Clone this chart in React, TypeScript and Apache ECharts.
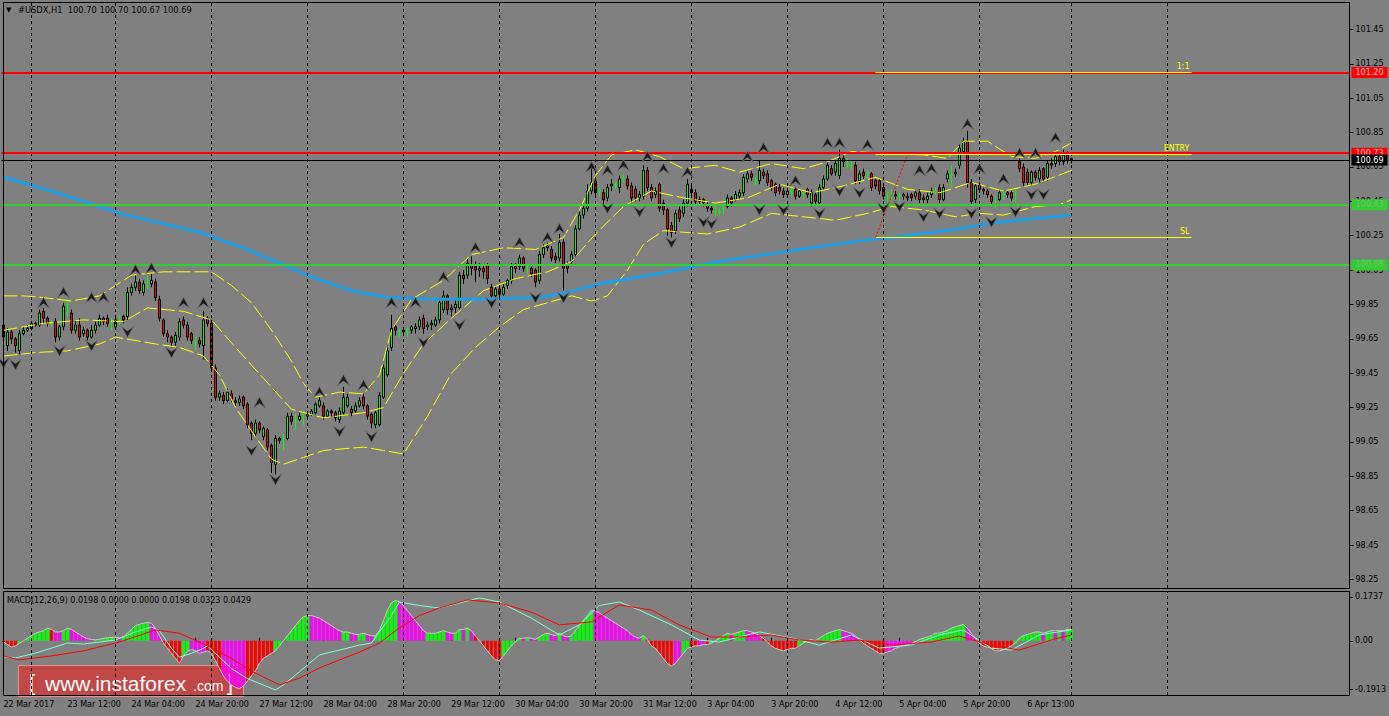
import React, { useEffect, useRef } from "react";
import * as echarts from "echarts";

const FONT = "DejaVu Sans";
const SLOTS = 337;
const categories = Array.from({ length: SLOTS }, (_, i) => String(i));

const symbolName = "#USDX,H1";
const lastBar = [100.7, 100.7, 100.67, 100.69];
const macdTitle = "MACD(12,26,9)";
const macdTitleValues = [0.0198, 0.0, 0.0, 0.0198, 0.0323, 0.0429];

const timeLabels = [
  "22 Mar 2017", "23 Mar 12:00", "24 Mar 04:00", "24 Mar 20:00", "27 Mar 12:00",
  "28 Mar 04:00", "28 Mar 20:00", "29 Mar 12:00", "30 Mar 04:00", "30 Mar 20:00",
  "31 Mar 12:00", "3 Apr 04:00", "3 Apr 20:00", "4 Apr 12:00", "5 Apr 04:00",
  "5 Apr 20:00", "6 Apr 13:00",
];
const labelStep = 16;
const dayLines = [7, 28, 52, 76, 100, 124, 148, 172, 196, 220, 244, 267, 291];
const priceTicks = [98.25, 98.45, 98.65, 98.85, 99.05, 99.25, 99.45, 99.65, 99.85, 100.05, 100.25, 100.45, 100.65, 100.85, 101.05, 101.25, 101.45];
const macdTicks = [-0.1913, 0, 0.1737];
const priceMin = 98.2;
const priceMax = 101.61;
const macdMin = -0.2151;
const macdMax = 0.1975;

// [open, close, low, high]
const candles = [
  [99.73,99.66,99.60,99.76],[99.61,99.69,99.58,99.71],[99.69,99.65,99.62,99.70],[99.65,99.61,99.57,99.66],[99.58,99.68,99.56,99.70],
  [99.68,99.70,99.67,99.72],[99.70,99.71,99.69,99.73],[99.71,99.74,99.70,99.75],[99.74,99.73,99.72,99.75],[99.73,99.80,99.72,99.82],
  [99.81,99.77,99.74,99.83],[99.77,99.74,99.72,99.78],[99.74,99.74,99.72,99.76],[99.75,99.66,99.63,99.77],[99.66,99.72,99.64,99.73],
  [99.72,99.84,99.70,99.86],[99.85,99.85,99.78,99.88],[99.80,99.70,99.68,99.82],[99.70,99.73,99.68,99.76],[99.73,99.66,99.64,99.77],
  [99.68,99.70,99.66,99.72],[99.70,99.66,99.64,99.71],[99.66,99.70,99.65,99.73],[99.70,99.73,99.68,99.75],[99.73,99.77,99.72,99.79],
  [99.77,99.75,99.73,99.78],[99.77,99.74,99.72,99.79],[99.74,99.74,99.70,99.77],[99.72,99.76,99.71,99.78],[99.76,99.76,99.73,99.79],
  [99.78,99.76,99.74,99.79],[99.78,99.92,99.76,99.95],[99.92,99.95,99.90,99.97],[99.95,99.98,99.93,100.02],[99.98,99.93,99.91,100.00],
  [99.92,99.97,99.90,99.99],[99.98,99.98,99.94,100.02],[99.97,99.99,99.95,100.03],[99.98,99.89,99.87,100.00],[99.88,99.77,99.75,99.90],
  [99.76,99.68,99.66,99.77],[99.68,99.66,99.63,99.70],[99.66,99.63,99.60,99.67],[99.63,99.67,99.61,99.69],[99.66,99.75,99.64,99.77],
  [99.76,99.73,99.71,99.78],[99.73,99.66,99.64,99.75],[99.68,99.64,99.62,99.69],[99.64,99.64,99.58,99.66],[99.64,99.62,99.60,99.66],
  [99.61,99.76,99.53,99.81],[99.77,99.74,99.72,99.78],[99.74,99.48,99.46,99.76],[99.48,99.31,99.29,99.50],[99.31,99.33,99.29,99.35],
  [99.32,99.29,99.27,99.34],[99.29,99.34,99.28,99.36],[99.33,99.30,99.28,99.35],[99.29,99.28,99.26,99.31],[99.28,99.30,99.26,99.32],
  [99.31,99.26,99.24,99.32],[99.27,99.15,99.13,99.28],[99.16,99.10,99.06,99.17],[99.10,99.16,99.08,99.18],[99.16,99.12,99.10,99.17],
  [99.08,99.13,99.06,99.14],[99.12,99.02,99.00,99.13],[99.03,98.93,98.87,99.04],[98.92,99.07,98.86,99.09],[99.07,99.06,99.04,99.08],
  [99.07,99.07,99.00,99.10],[99.07,99.20,99.06,99.22],[99.20,99.17,99.15,99.22],[99.18,99.18,99.12,99.21],[99.18,99.20,99.17,99.22],
  [99.20,99.20,99.15,99.23],[99.20,99.21,99.19,99.23],[99.21,99.23,99.20,99.24],[99.22,99.27,99.21,99.28],[99.26,99.29,99.25,99.31],
  [99.26,99.20,99.18,99.28],[99.20,99.23,99.19,99.24],[99.23,99.22,99.20,99.24],[99.22,99.19,99.17,99.23],[99.18,99.23,99.16,99.25],
  [99.22,99.31,99.21,99.37],[99.26,99.31,99.25,99.33],[99.24,99.22,99.20,99.26],[99.23,99.26,99.22,99.28],[99.26,99.29,99.25,99.31],
  [99.31,99.26,99.24,99.33],[99.26,99.20,99.18,99.27],[99.21,99.16,99.13,99.22],[99.15,99.22,99.13,99.23],[99.15,99.32,99.14,99.34],
  [99.31,99.48,99.30,99.50],[99.44,99.58,99.43,99.60],[99.60,99.71,99.58,99.79],[99.72,99.70,99.67,99.74],[99.69,99.69,99.66,99.71],
  [99.70,99.69,99.67,99.72],[99.69,99.69,99.66,99.71],[99.70,99.72,99.68,99.73],[99.71,99.72,99.68,99.74],[99.72,99.76,99.70,99.78],
  [99.77,99.71,99.68,99.79],[99.72,99.73,99.70,99.75],[99.73,99.74,99.70,99.76],[99.73,99.76,99.72,99.78],[99.76,99.86,99.74,99.88],
  [99.82,99.90,99.80,99.93],[99.90,99.82,99.79,99.91],[99.82,99.83,99.78,99.85],[99.83,99.85,99.80,99.88],[99.83,100.02,99.82,100.04],
  [100.02,100.00,99.97,100.05],[100.02,100.09,100.00,100.12],[100.08,100.06,100.02,100.13],[100.07,100.05,99.98,100.10],[100.05,100.06,100.01,100.09],
  [100.06,100.04,100.00,100.08],[100.08,100.00,99.97,100.09],[99.95,99.90,99.88,99.97],[99.90,99.94,99.89,99.96],[99.94,99.91,99.89,99.95],
  [99.91,99.95,99.90,99.97],[99.96,99.99,99.94,100.00],[99.99,100.07,99.97,100.09],[100.07,100.06,100.03,100.09],[100.07,100.12,100.05,100.14],
  [100.12,100.06,100.04,100.13],[100.06,100.06,100.03,100.08],[100.06,100.03,100.01,100.07],[100.05,99.98,99.95,100.06],[99.99,100.14,99.97,100.16],
  [100.14,100.18,100.12,100.20],[100.18,100.19,100.16,100.21],[100.17,100.12,100.10,100.19],[100.13,100.11,100.09,100.15],[100.12,100.21,100.10,100.26],
  [100.21,100.06,99.93,100.23],[100.08,100.06,100.03,100.10],[100.10,100.14,100.08,100.16],[100.14,100.29,100.13,100.31],[100.29,100.37,100.28,100.39],
  [100.37,100.41,100.35,100.43],[100.41,100.51,100.39,100.55],[100.51,100.56,100.49,100.64],[100.57,100.50,100.47,100.60],[100.51,100.51,100.48,100.53],
  [100.50,100.46,100.43,100.52],[100.47,100.53,100.45,100.55],[100.54,100.55,100.51,100.58],[100.54,100.54,100.52,100.56],[100.53,100.58,100.50,100.60],
  [100.58,100.58,100.56,100.61],[100.58,100.54,100.52,100.60],[100.54,100.47,100.44,100.56],[100.52,100.47,100.45,100.54],[100.47,100.49,100.45,100.51],
  [100.48,100.63,100.46,100.66],[100.63,100.53,100.51,100.65],[100.53,100.47,100.45,100.55],[100.49,100.51,100.47,100.53],[100.55,100.41,100.39,100.56],
  [100.44,100.40,100.37,100.46],[100.40,100.29,100.25,100.41],[100.31,100.27,100.24,100.33],[100.28,100.38,100.26,100.40],[100.40,100.35,100.33,100.42],
  [100.38,100.44,100.36,100.46],[100.44,100.55,100.42,100.58],[100.52,100.50,100.47,100.55],[100.50,100.45,100.43,100.52],[100.46,100.45,100.43,100.48],
  [100.46,100.44,100.42,100.47],[100.43,100.41,100.39,100.45],[100.41,100.40,100.38,100.43],[100.39,100.39,100.36,100.42],[100.39,100.39,100.37,100.41],
  [100.41,100.41,100.38,100.43],[100.42,100.47,100.41,100.49],[100.47,100.44,100.42,100.48],[100.46,100.49,100.45,100.51],[100.48,100.50,100.46,100.52],
  [100.50,100.59,100.48,100.61],[100.58,100.61,100.56,100.63],[100.61,100.59,100.57,100.63],[100.57,100.57,100.54,100.59],[100.57,100.63,100.55,100.69],
  [100.62,100.60,100.58,100.64],[100.61,100.56,100.54,100.63],[100.57,100.53,100.51,100.58],[100.55,100.50,100.48,100.56],[100.53,100.51,100.49,100.55],
  [100.51,100.49,100.47,100.53],[100.49,100.51,100.47,100.53],[100.51,100.51,100.48,100.53],[100.52,100.48,100.46,100.53],[100.48,100.51,100.47,100.52],
  [100.50,100.50,100.47,100.52],[100.52,100.49,100.47,100.53],[100.44,100.50,100.42,100.52],[100.49,100.45,100.43,100.50],[100.44,100.53,100.43,100.55],
  [100.53,100.58,100.52,100.60],[100.58,100.66,100.57,100.68],[100.64,100.61,100.60,100.66],[100.62,100.67,100.60,100.69],[100.60,100.70,100.58,100.75],
  [100.70,100.68,100.65,100.72],[100.67,100.67,100.64,100.70],[100.66,100.66,100.63,100.69],[100.66,100.57,100.55,100.68],[100.57,100.61,100.55,100.63],
  [100.62,100.60,100.58,100.64],[100.61,100.61,100.58,100.63],[100.61,100.53,100.51,100.62],[100.57,100.54,100.52,100.58],[100.57,100.51,100.49,100.58],
  [100.53,100.48,100.46,100.54],[100.48,100.48,100.44,100.50],[100.49,100.49,100.46,100.52],[100.49,100.48,100.46,100.51],[100.48,100.48,100.45,100.50],
  [100.49,100.48,100.46,100.50],[100.48,100.47,100.45,100.50],[100.49,100.47,100.45,100.50],[100.48,100.50,100.46,100.52],[100.50,100.46,100.44,100.52],
  [100.47,100.46,100.44,100.49],[100.46,100.48,100.44,100.50],[100.49,100.51,100.47,100.53],[100.51,100.51,100.49,100.53],[100.53,100.46,100.44,100.55],
  [100.46,100.53,100.45,100.55],[100.58,100.61,100.56,100.63],[100.60,100.60,100.53,100.66],[100.61,100.62,100.59,100.64],[100.66,100.76,100.64,100.78],
  [100.74,100.80,100.72,100.82],[100.80,100.56,100.53,100.86],[100.56,100.45,100.43,100.58],[100.46,100.54,100.44,100.55],[100.55,100.52,100.50,100.56],
  [100.52,100.51,100.49,100.53],[100.51,100.49,100.47,100.52],[100.48,100.45,100.43,100.49],[100.45,100.45,100.41,100.47],[100.46,100.50,100.45,100.52],
  [100.49,100.49,100.46,100.52],[100.50,100.49,100.47,100.51],[100.50,100.47,100.45,100.51],[100.49,100.49,100.44,100.52],[100.68,100.64,100.62,100.70],
  [100.65,100.56,100.54,100.67],[100.62,100.56,100.54,100.64],[100.56,100.62,100.54,100.63],[100.62,100.59,100.57,100.63],[100.58,100.63,100.56,100.65],
  [100.64,100.58,100.56,100.65],[100.59,100.67,100.57,100.69],[100.67,100.66,100.64,100.70],[100.67,100.71,100.65,100.74],[100.71,100.68,100.66,100.73],
  [100.68,100.72,100.66,100.75],[100.72,100.69,100.67,100.74],[100.70,100.69,100.67,100.70],
];

// [bar index, price] key points
const ma200 = [[0,100.59],[12,100.51],[24,100.42],[29,100.38],[49,100.27],[61,100.17],[76,100.02],[87,99.93],[96,99.89],[107,99.88],[119,99.88],[134,99.89],[141,99.92],[149,99.97],[164,100.03],[179,100.10],[199,100.17],[214,100.22],[222,100.24],[239,100.29],[249,100.33],[267,100.37]];
const bbUpper = [[0,99.90],[5,99.90],[10,99.89],[17,99.87],[24,99.90],[28,99.96],[32,100.02],[40,100.04],[52,100.04],[57,99.96],[62,99.86],[67,99.70],[72,99.52],[75,99.39],[78,99.31],[84,99.34],[90,99.33],[94,99.44],[97,99.70],[102,99.88],[110,99.99],[117,100.14],[125,100.18],[133,100.17],[140,100.24],[144,100.40],[148,100.60],[152,100.72],[158,100.75],[164,100.71],[170,100.64],[178,100.66],[184,100.62],[192,100.67],[200,100.64],[206,100.68],[212,100.74],[220,100.73],[230,100.72],[236,100.70],[240,100.80],[246,100.80],[252,100.71],[258,100.70],[263,100.74],[267,100.79]];
const bbMiddle = [[0,99.70],[10,99.74],[20,99.76],[30,99.75],[36,99.83],[45,99.81],[52,99.76],[58,99.60],[65,99.42],[72,99.24],[80,99.19],[90,99.22],[95,99.25],[100,99.45],[105,99.62],[112,99.77],[120,99.93],[128,100.00],[136,100.04],[142,100.10],[148,100.26],[155,100.42],[162,100.51],[170,100.47],[178,100.44],[186,100.47],[194,100.55],[202,100.50],[210,100.54],[218,100.59],[226,100.52],[234,100.50],[242,100.56],[250,100.51],[258,100.55],[267,100.63]];
const bbLower = [[0,99.55],[8,99.57],[16,99.58],[24,99.62],[28,99.66],[38,99.62],[44,99.60],[50,99.55],[54,99.44],[58,99.25],[63,99.08],[67,98.95],[70,98.92],[75,98.96],[80,99.00],[90,99.02],[95,99.00],[100,98.98],[106,99.20],[112,99.45],[118,99.60],[124,99.72],[130,99.82],[136,99.86],[142,99.90],[147,99.87],[151,99.90],[156,100.05],[160,100.20],[165,100.28],[170,100.27],[176,100.26],[184,100.30],[192,100.38],[200,100.36],[208,100.34],[216,100.38],[222,100.42],[230,100.40],[238,100.36],[244,100.38],[250,100.37],[258,100.42],[264,100.43],[267,100.46]];

const fractalUp = [[10,99.86],[15,99.92],[22,99.89],[25,99.89],[33,100.05],[37,100.06],[45,99.86],[50,99.86],[64,99.28],[79,99.34],[85,99.41],[90,99.38],[97,99.86],[103,99.86],[110,100.01],[118,100.18],[129,100.21],[136,100.24],[139,100.29],[147,100.65],[151,100.63],[155,100.66],[161,100.71],[165,100.64],[171,100.62],[186,100.71],[190,100.76],[198,100.57],[206,100.79],[209,100.79],[216,100.78],[229,100.63],[232,100.64],[241,100.90],[244,100.64],[250,100.58],[254,100.73],[258,100.73],[263,100.82]];
const fractalDown = [[0,99.51],[3,99.50],[14,99.58],[22,99.61],[31,99.69],[42,99.57],[62,99.00],[68,98.83],[84,99.11],[92,99.08],[105,99.63],[114,99.73],[122,99.86],[133,99.89],[140,99.89],[151,100.41],[159,100.39],[167,100.21],[175,100.33],[177,100.32],[189,100.40],[195,100.40],[204,100.38],[209,100.51],[214,100.50],[220,100.41],[224,100.42],[230,100.36],[234,100.38],[242,100.38],[247,100.33],[253,100.39],[257,100.49],[260,100.49]];

const macdHist = [
  -0.005,-0.015,-0.025,-0.02,-0.01,0,0.01,0.02,0.03,0.035,
  0.04,0.05,0.045,0.035,0.035,0.04,0.05,0.045,0.035,0.025,
  0.015,0.008,0.005,0.004,0.006,0.01,0.012,0.013,0.014,0.012,
  0.015,0.03,0.045,0.06,0.065,0.07,0.072,0.07,0.05,0.02,
  -0.01,-0.03,-0.05,-0.07,-0.09,-0.06,-0.04,-0.035,-0.04,-0.05,
  -0.045,-0.04,-0.05,-0.08,-0.11,-0.14,-0.16,-0.175,-0.185,-0.19,
  -0.18,-0.16,-0.14,-0.12,-0.09,-0.07,-0.06,-0.05,-0.04,-0.02,
  0,0.02,0.04,0.06,0.08,0.095,0.1,0.1,0.095,0.09,
  0.08,0.07,0.06,0.05,0.04,0.035,0.035,0.03,0.025,0.025,
  0.03,0.025,0.02,0.02,0.04,0.08,0.12,0.15,0.16,0.155,
  0.14,0.12,0.1,0.08,0.06,0.04,0.03,0.03,0.03,0.035,
  0.04,0.035,0.03,0.03,0.045,0.045,0.05,0.04,0.02,0,
  -0.02,-0.04,-0.06,-0.075,-0.08,-0.06,-0.04,-0.02,-0.005,0.01,
  0.01,0.012,0.01,0.005,0.015,0.025,0.03,0.025,0.02,0.03,
  0.02,0.015,0.02,0.04,0.06,0.08,0.1,0.12,0.12,0.11,
  0.1,0.09,0.08,0.07,0.06,0.05,0.04,0.025,0.015,0.01,
  0.02,0.005,-0.02,-0.03,-0.05,-0.07,-0.09,-0.1,-0.09,-0.07,
  -0.05,-0.03,-0.025,-0.02,-0.02,-0.015,-0.015,-0.01,0,0.01,
  0.02,0.03,0.025,0.03,0.035,0.04,0.04,0.035,0.03,0.02,
  0.01,-0.005,-0.02,-0.03,-0.035,-0.04,-0.035,-0.03,-0.03,-0.02,
  -0.01,0,0.005,0,0.01,0.02,0.03,0.035,0.04,0.045,
  0.04,0.035,0.03,0.02,0.005,-0.01,-0.02,-0.03,-0.04,-0.05,
  -0.05,-0.045,-0.04,-0.03,-0.025,-0.02,-0.015,-0.01,-0.005,0.005,
  0.01,0.015,0.02,0.03,0.03,0.035,0.04,0.05,0.055,0.06,
  0.065,0.05,0.03,0.01,-0.01,-0.02,-0.025,-0.03,-0.04,-0.04,
  -0.035,-0.03,-0.02,-0.01,0.01,0.02,0.025,0.03,0.035,0.035,
  0.03,0.035,0.04,0.04,0.04,0.04,0.045,0.045,
];
const macdHistColors =
  "rrrrgggggg" + "ggrmmggmmm" + "mmmggggggm" + "gggggggmmm" + "rrrrrggmmm" +
  "mrrrrmmmmm" + "mrrrrrrrgg" + "gggggggmmm" + "mmmmmggmmg" + "gmmggggggm" +
  "mmmmmmgggg" + "gmmggmgmrr" + "rrrrrggggg" + "mgmmgggmmg" + "mmggggggmm" +
  "mmmmmmmmmm" + "grrrrrrrmm" + "ggrrmmrggg" + "ggmgggmmmm" + "rrrrrrrrrg" +
  "gggrgggggg" + "mmmmrrrrrr" + "rmmmmmmmgg" + "gggggggggg" + "gmmmrrrrrr" +
  "rrrggggggg" + "mggmgmgg";
const macdMain = [[0,-0.063],[3,-0.068],[8,-0.049],[12,-0.029],[16,-0.009],[20,-0.013],[24,-0.005],[28,0.003],[33,0.035],[37,0.055],[39,0.04],[42,-0.03],[44,-0.065],[47,-0.05],[50,-0.03],[51,-0.02],[55,-0.08],[57,-0.11],[61,-0.15],[68,-0.195],[70,-0.175],[74,-0.123],[79,-0.056],[84,-0.037],[89,-0.017],[92,-0.009],[94,0.035],[97,0.10],[99,0.154],[104,0.14],[109,0.13],[119,0.17],[124,0.154],[132,0.09],[139,0.023],[144,0.063],[149,0.14],[154,0.154],[159,0.122],[167,0.063],[174,0.003],[179,-0.005],[189,0.035],[197,0.011],[204,-0.017],[212,0.023],[219,-0.029],[227,-0.017],[234,0.023],[240,0.043],[247,-0.029],[252,-0.037],[259,0.023],[267,0.043]];
const macdSignal = [[0,-0.06],[4,-0.076],[12,-0.06],[20,-0.04],[29,-0.005],[38,0.043],[44,0.03],[51,-0.02],[57,-0.07],[62,-0.12],[69,-0.175],[74,-0.148],[79,-0.108],[84,-0.076],[89,-0.045],[94,-0.009],[99,0.051],[104,0.10],[109,0.13],[116,0.162],[124,0.15],[132,0.114],[139,0.063],[147,0.075],[154,0.142],[162,0.122],[169,0.063],[177,0.015],[184,0.015],[192,0.023],[199,0.003],[207,-0.005],[214,0.003],[222,-0.017],[232,-0.005],[239,0.019],[247,-0.017],[254,-0.037],[262,0.003],[267,0.023]];

const redLevels = [101.2, 100.73];
const greenLevels = [100.43, 100.08];
const bidLevel = 100.69;
const tradeLevels = [
  { label: "1:1", price: 101.2 },
  { label: "ENTRY", price: 100.722 },
  { label: "SL", price: 100.24 },
];
const tradeFrom = 218;
const tradeTo = 297;
const trendFrom = [218, 100.24];
const trendTo = [226, 100.72];

const histColorMap: Record<string, string> = { g: "#00ff00", m: "#ff00ff", r: "#ff0000" };

function boxLabel(text: string, bg: string, fg: string) {
  return {
    show: true,
    position: "end",
    distance: 2,
    formatter: text,
    backgroundColor: bg,
    color: fg,
    fontFamily: FONT,
    fontSize: 8,
    lineHeight: 9,
    padding: [1, 4, 1, 4],
  };
}

export default function App() {
  const ref = useRef<HTMLDivElement>(null);
  useEffect(() => {
    if (!ref.current) return;
    const chart = echarts.init(ref.current, undefined, { renderer: "svg" });
    const labelInterval = (idx: number) => idx % labelStep === 0 && idx / labelStep < timeLabels.length;
    const gridLineMark = {
      silent: true,
      symbol: ["none", "none"],
      label: { show: false },
      lineStyle: { color: "#000", type: [3, 3], width: 1 },
      data: dayLines.map((i) => ({ xAxis: String(i) })),
    };
    const levelData: any[] = [
      ...redLevels.map((p) => ({ yAxis: p, lineStyle: { color: "#ff0000", width: 2, type: "solid" }, label: boxLabel(p.toFixed(2), "#ff0000", "#ffc4c4") })),
      ...greenLevels.map((p) => ({ yAxis: p, lineStyle: { color: "#2fd02f", width: 2, type: "solid" }, label: boxLabel(p.toFixed(2), "#2fd02f", "#80b880") })),
      { yAxis: bidLevel, lineStyle: { color: "#000", width: 1, type: "solid" }, label: boxLabel(bidLevel.toFixed(2), "#000", "#ffffff") },
      ...tradeLevels.map((t) => [
        {
          coord: [String(tradeFrom), t.price],
          lineStyle: { color: "#ffff00", width: 1, type: "solid" },
          label: { show: true, position: "insideEndTop", distance: 2, formatter: t.label, color: "#ffff00", fontFamily: FONT, fontSize: 8 },
        },
        { coord: [String(tradeTo), t.price] },
      ]),
      [
        { coord: [String(trendFrom[0]), trendFrom[1]], lineStyle: { color: "#ff0000", width: 1, type: [2, 2] }, label: { show: false } },
        { coord: [String(trendTo[0]), trendTo[1]] },
      ],
    ];
    const bandLine = (data: number[][]) => ({
      type: "line",
      xAxisIndex: 0,
      yAxisIndex: 0,
      data,
      symbol: "none",
      z: 4,
      silent: true,
      lineStyle: { color: "#ffff00", width: 1, type: [14, 4] },
    });
    const fractalStyle = { color: "#1a1a1a", borderColor: "#6e6e6e", borderWidth: 0.8, opacity: 1 };
    const option: any = {
      animation: false,
      backgroundColor: "#808080",
      grid: [
        { left: 1.5, width: 1348, top: 2, height: 586 },
        { left: 1.5, width: 1348, top: 591, height: 104 },
      ],
      xAxis: [
        {
          type: "category", gridIndex: 0, data: categories, boundaryGap: true,
          axisLine: { show: false }, axisTick: { show: false }, axisLabel: { show: false }, splitLine: { show: false },
        },
        {
          type: "category", gridIndex: 1, data: categories, boundaryGap: true,
          axisLine: { show: false },
          axisTick: { show: true, inside: true, alignWithLabel: true, interval: labelInterval, length: 3, lineStyle: { color: "#000" } },
          axisLabel: {
            show: true, interval: labelInterval, align: "left", margin: 5,
            formatter: (_v: string, idx: number) => timeLabels[idx / labelStep] || "",
            color: "#000", fontFamily: FONT, fontSize: 8,
          },
          splitLine: { show: false },
        },
      ],
      yAxis: [
        {
          type: "value", gridIndex: 0, position: "right", min: priceMin, max: priceMax,
          splitLine: { show: false }, axisLine: { show: false },
          axisTick: { show: true, customValues: priceTicks, length: 4, lineStyle: { color: "#000" } },
          axisLabel: { customValues: priceTicks, formatter: (v: number) => v.toFixed(2), color: "#000", fontFamily: FONT, fontSize: 8, margin: 6 },
        },
        {
          type: "value", gridIndex: 1, position: "right", min: macdMin, max: macdMax,
          splitLine: { show: false }, axisLine: { show: false },
          axisTick: { show: true, customValues: macdTicks, length: 4, lineStyle: { color: "#000" } },
          axisLabel: {
            customValues: macdTicks,
            formatter: (v: number) => (Math.abs(v) < 1e-9 ? "0.00" : v.toFixed(4)),
            color: "#000", fontFamily: FONT, fontSize: 8, margin: 6,
          },
        },
      ],
      series: [
        { type: "line", xAxisIndex: 0, yAxisIndex: 0, data: [], z: 1, silent: true, markLine: gridLineMark },
        { type: "line", xAxisIndex: 1, yAxisIndex: 1, data: [], z: 1, silent: true, markLine: gridLineMark },
        {
          type: "candlestick", xAxisIndex: 0, yAxisIndex: 0, data: candles, barWidth: 3, z: 3, silent: true,
          itemStyle: { color: "#00ff00", color0: "#ff0000", borderColor: "#000", borderColor0: "#000", borderColorDoji: "#00ff00", borderWidth: 1 },
        },
        bandLine(bbUpper),
        bandLine(bbMiddle),
        bandLine(bbLower),
        {
          type: "line", xAxisIndex: 0, yAxisIndex: 0, data: ma200, symbol: "none", z: 4, silent: true,
          lineStyle: { color: "#1e9fe6", width: 3 },
        },
        {
          type: "scatter", xAxisIndex: 0, yAxisIndex: 0, data: fractalUp, z: 5, silent: true,
          symbol: "path://M6,0 L12,11 L6,6.5 L0,11 Z", symbolSize: [12, 11],
          itemStyle: fractalStyle,
        },
        {
          type: "scatter", xAxisIndex: 0, yAxisIndex: 0, data: fractalDown, z: 5, silent: true,
          symbol: "path://M0,0 L6,4.5 L12,0 L6,11 Z", symbolSize: [12, 11],
          itemStyle: fractalStyle,
        },
        {
          type: "line", xAxisIndex: 0, yAxisIndex: 0, data: [], z: 6, silent: true,
          markLine: { silent: true, symbol: ["none", "none"], data: levelData },
        },
        {
          type: "bar", xAxisIndex: 1, yAxisIndex: 1, barWidth: 3, z: 2, silent: true,
          data: macdHist.map((v, i) => ({ value: v, itemStyle: { color: histColorMap[macdHistColors[i]] } })),
        },
        {
          type: "line", xAxisIndex: 1, yAxisIndex: 1, data: macdHist, symbol: "none", z: 3, silent: true,
          lineStyle: { color: "#c8c8c8", width: 1 },
        },
        {
          type: "line", xAxisIndex: 1, yAxisIndex: 1, data: macdMain, symbol: "none", z: 4, silent: true,
          lineStyle: { color: "#7fffd4", width: 1 },
        },
        {
          type: "line", xAxisIndex: 1, yAxisIndex: 1, data: macdSignal, symbol: "none", z: 4, silent: true,
          lineStyle: { color: "#ff0000", width: 1 },
        },
      ],
      graphic: [
        { type: "rect", z: 50, silent: true, shape: { x: 3.5, y: 2.5, width: 1346, height: 586 }, style: { fill: "none", stroke: "#000", lineWidth: 1 } },
        { type: "rect", z: 50, silent: true, shape: { x: 3.5, y: 591.5, width: 1346, height: 104 }, style: { fill: "none", stroke: "#000", lineWidth: 1 } },
        { type: "text", z: 50, x: 6, y: 10, style: { text: "▼", fill: "#000", font: `7px "${FONT}"`, verticalAlign: "middle" } },
        {
          type: "text", z: 50, x: 18, y: 10,
          style: { text: `${symbolName}  ${lastBar.map((v) => v.toFixed(2)).join(" ")}`, fill: "#000", font: `8.3px "${FONT}"`, verticalAlign: "middle" },
        },
        {
          type: "text", z: 50, x: 7, y: 600,
          style: { text: `${macdTitle} ${macdTitleValues.map((v) => v.toFixed(4)).join(" ")}`, fill: "#000", font: `8px "${FONT}"`, verticalAlign: "middle" },
        },
        {
          type: "group", z: 60, silent: true,
          children: [
            { type: "rect", shape: { x: 18.5, y: 665.5, width: 225, height: 31 }, style: { fill: "rgba(205,62,62,0.86)", stroke: "rgba(235,150,150,0.9)", lineWidth: 1 } },
            { type: "text", x: 29, y: 682, style: { text: "[", fill: "#fff", font: `22px "Liberation Sans"`, verticalAlign: "middle" } },
            { type: "text", x: 45, y: 683, style: { text: "www.instaforex", fill: "#fff", font: `21px "Liberation Sans"`, verticalAlign: "middle" } },
            { type: "text", x: 193, y: 686, style: { text: ".com", fill: "#fff", font: `14px "Liberation Sans"`, verticalAlign: "middle" } },
            { type: "text", x: 227, y: 682, style: { text: "]", fill: "#fff", font: `22px "Liberation Sans"`, verticalAlign: "middle" } },
          ],
        },
      ],
    };
    chart.setOption(option);
    return () => chart.dispose();
  }, []);
  return <div ref={ref} style={{ position: "absolute", left: 0, top: 0, width: 1389, height: 716 }} />;
}
